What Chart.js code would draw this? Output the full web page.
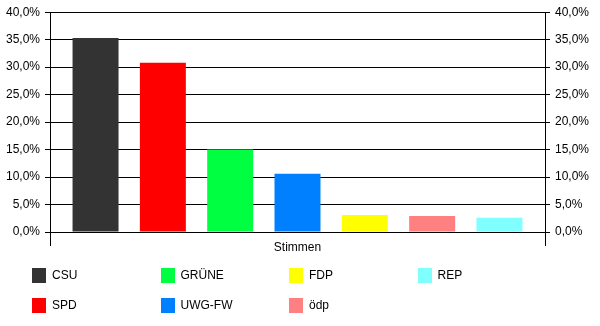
<!DOCTYPE html>
<html>
<head>
<meta charset="utf-8">
<script src="https://cdn.jsdelivr.net/npm/chart.js@4"></script>
<style>
  html, body { margin: 0; padding: 0; background: #fff; }
  #wrap { position: relative; width: 600px; height: 326px; }
  #legend {
    position: absolute; left: 32px; top: 260px;
    display: grid; grid-auto-flow: column;
    grid-template-rows: 30px 30px; grid-template-columns: repeat(4, 128.5px);
    font: 12px "Liberation Sans", Arial, sans-serif; color: #000;
  }
  .item { display: flex; align-items: center; }
  .box { width: 14px; height: 15px; margin-right: 6px; }
</style>
</head>
<body>
<div id="wrap">
  <canvas id="chart" width="600" height="326"></canvas>
  <div id="legend"></div>
</div>
<script>
  // Stimmenanteile je Partei (in %)
  const parties = ["CSU", "SPD", "GRÜNE", "UWG-FW", "FDP", "ödp", "REP"];
  const shares = [35.3, 30.8, 15.0, 10.6, 3.1, 2.9, 2.6];
  const colors = ["#333333", "#ff0000", "#00ff40", "#0080ff", "#ffff00", "#ff8080", "#80ffff"];
  const categories = ["Stimmen"];

  const fmt = v => v.toFixed(1).replace(".", ",") + "%";
  const font = { family: "'Liberation Sans', Arial, sans-serif", size: 12 };

  const datasets = parties.map((p, i) => ({
    label: p,
    data: [shares[i]],
    backgroundColor: colors[i],
    borderWidth: 0,
    categoryPercentage: 0.952,
    barPercentage: 0.683
  }));

  const yAxis = (position, onArea) => ({
    position: position,
    min: 0, max: 40,
    ticks: { stepSize: 5, color: "#000", font: font, padding: 5, callback: fmt },
    grid: { color: "#000", lineWidth: 1, drawOnChartArea: onArea, tickLength: 5 },
    border: { color: "#000", width: 1 },
    afterFit: s => { s.width = position === "left" ? 50 : 55; }
  });

  new Chart(document.getElementById("chart"), {
    type: "bar",
    data: { labels: categories, datasets: datasets },
    options: {
      responsive: false,
      animation: false,
      layout: { padding: { top: 10, left: 0, right: 0, bottom: 0 } },
      plugins: { legend: { display: false }, tooltip: { enabled: false } },
      scales: {
        x: {
          offset: true,
          ticks: { color: "#000", font: font, padding: -6 },
          grid: { color: "#000", lineWidth: 1, offset: true, drawOnChartArea: false, tickLength: 14 },
          border: { display: false },
          afterFit: s => { s.height = 94; }
        },
        y: yAxis("left", true),
        y2: yAxis("right", false)
      }
    }
  });

  // Legende (zwei Zeilen, spaltenweise)
  const legend = document.getElementById("legend");
  parties.forEach((p, i) => {
    const it = document.createElement("div");
    it.className = "item";
    it.innerHTML = '<span class="box" style="background:' + colors[i] + '"></span><span>' + p + '</span>';
    legend.appendChild(it);
  });
</script>
</body>
</html>
